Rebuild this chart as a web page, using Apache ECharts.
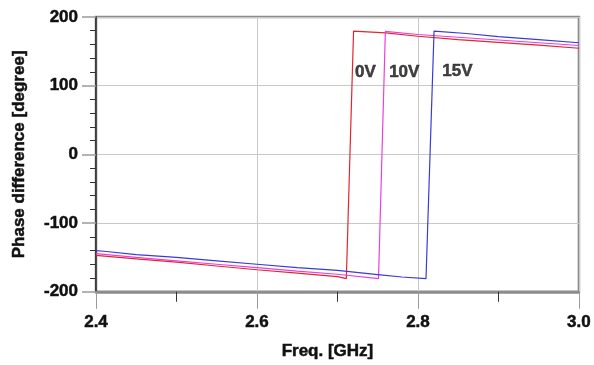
<!DOCTYPE html>
<html>
<head>
<meta charset="utf-8">
<script src="https://cdn.jsdelivr.net/npm/echarts@6/dist/echarts.min.js"></script>
<style>
html,body{margin:0;padding:0;background:#fff;}
#chart{width:594px;height:365px;}
</style>
</head>
<body>
<div id="chart"></div>
<script>
// Frequencies (GHz) and phase difference (degree) for each bias voltage
const freq0V  = [2.40, 2.45, 2.50, 2.55, 2.60, 2.65, 2.70, 2.711, 2.720, 2.76, 2.80, 2.85, 2.90, 2.95, 3.00];
const phase0V = [-147, -152, -157, -162.5, -168, -173, -178, -181, 179.5, 177, 172, 167, 163, 159, 154.5];

const freq10V  = [2.40, 2.45, 2.50, 2.55, 2.60, 2.65, 2.70, 2.751, 2.7595, 2.80, 2.85, 2.90, 2.95, 3.00];
const phase10V = [-144.5, -150, -155, -160, -165, -170, -174.5, -181, 179, 174.5, 170.5, 166.5, 162.5, 158.5];

const freq15V  = [2.40, 2.41, 2.45, 2.50, 2.55, 2.60, 2.65, 2.70, 2.75, 2.78, 2.81, 2.820, 2.86, 2.90, 2.95, 3.00];
const phase15V = [-140, -141, -146, -150, -155, -160, -165, -169, -175, -178.5, -181, 179.5, 176, 171.5, 167, 162.5];

const seriesNames = ['0V', '10V', '15V'];
const labelFreq  = [2.7347, 2.783, 2.849];
const labelPhase = [120, 120, 121];

const xTicks = ['2.4', '2.6', '2.8', '3.0'];
const yTicks = ['-200', '-100', '0', '100', '200'];

const pair = (xs, ys) => xs.map((x, i) => [x, ys[i]]);
const font = 'Liberation Sans, Arial, sans-serif';
const txt = {fontFamily: font, fontWeight: 'bold', fontSize: 17, color: '#111', textBorderColor: '#111', textBorderWidth: 0.5};

const chart = echarts.init(document.getElementById('chart'));
chart.setOption({
  animation: false,
  grid: {left: 96, right: 14, top: 17, bottom: 72, show: true, borderColor: '#8c8c8c', borderWidth: 2.5, backgroundColor: 'transparent'},
  xAxis: {
    type: 'value', min: 2.4, max: 3.0, interval: 0.2,
    name: 'Freq. [GHz]', nameLocation: 'middle', nameGap: 51,
    nameTextStyle: Object.assign({}, txt, {padding: [0, 20, 0, 0]}),
    axisLine: {show: true, onZero: false, lineStyle: {color: '#8c8c8c', width: 2.5}},
    axisTick: {show: true, length: 17, lineStyle: {color: '#9a9a9a', width: 1}},
    minorTick: {show: true, splitNumber: 2, length: 10, lineStyle: {color: '#333', width: 1}},
    splitLine: {show: true, lineStyle: {color: '#c8c8c8', width: 1}},
    axisLabel: Object.assign({margin: 22,
      formatter: v => { const s = v.toFixed(1); return xTicks.includes(s) ? s : ''; }}, txt)
  },
  yAxis: {
    type: 'value', min: -200, max: 200, interval: 100,
    name: 'Phase difference [degree]', nameLocation: 'middle', nameGap: 68,
    nameTextStyle: txt,
    axisLine: {show: true, onZero: false, lineStyle: {color: '#222', width: 1.5}},
    axisTick: {show: true, length: 14, lineStyle: {color: '#9a9a9a', width: 1.5}},
    minorTick: {show: true, splitNumber: 5, length: 6, lineStyle: {color: '#333', width: 1}},
    splitLine: {show: true, lineStyle: {color: '#c8c8c8', width: 1}},
    axisLabel: Object.assign({margin: 18,
      formatter: v => { const s = String(Math.round(v)); return yTicks.includes(s) ? s : ''; }}, txt)
  },
  series: [
    {name: seriesNames[0], type: 'line', data: pair(freq0V, phase0V), showSymbol: false, lineStyle: {color: '#e0262e', width: 1.2}, z: 3},
    {name: seriesNames[1], type: 'line', data: pair(freq10V, phase10V), showSymbol: false, lineStyle: {color: '#e83fe0', width: 1.2}, z: 3},
    {name: seriesNames[2], type: 'line', data: pair(freq15V, phase15V), showSymbol: false, lineStyle: {color: '#3a3ad6', width: 1.2}, z: 3},
    {
      type: 'scatter', symbolSize: 0, silent: true, z: 5,
      data: seriesNames.map((n, i) => ({value: [labelFreq[i], labelPhase[i]], name: n})),
      label: Object.assign({show: true, position: 'inside', formatter: p => p.name}, txt)
    }
  ]
});
</script>
</body>
</html>
